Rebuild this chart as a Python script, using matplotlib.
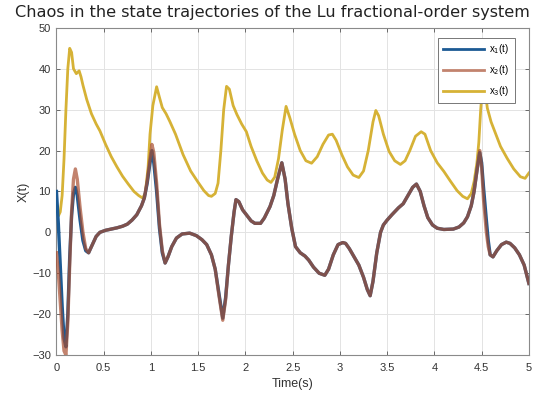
import matplotlib
matplotlib.use("Agg")
import matplotlib.pyplot as plt

plt.rcParams['font.family'] = ['Liberation Sans', 'DejaVu Sans']

# state x1 and x2 share sampling instants
t12 = [0.00, 0.02, 0.04, 0.06, 0.08, 0.10, 0.12, 0.14, 0.16, 0.18, 0.20, 0.22, 0.25,
       0.28, 0.31, 0.34, 0.38, 0.42, 0.46, 0.52, 0.58, 0.64, 0.70, 0.75, 0.80, 0.85,
       0.90, 0.93, 0.96, 0.99, 1.01, 1.03, 1.06, 1.09, 1.12, 1.15, 1.18, 1.22, 1.27,
       1.33, 1.41, 1.48, 1.54, 1.59, 1.64, 1.68, 1.72, 1.76, 1.79, 1.82, 1.85, 1.88,
       1.90, 1.93, 1.97, 2.01, 2.06, 2.10, 2.16, 2.20, 2.26, 2.30, 2.34, 2.385, 2.42,
       2.45, 2.49, 2.53, 2.58, 2.63, 2.67, 2.72, 2.78, 2.84, 2.88, 2.93, 2.98, 3.03,
       3.06, 3.10, 3.15, 3.20, 3.25, 3.29, 3.32, 3.35, 3.39, 3.43, 3.46, 3.50, 3.55,
       3.62, 3.67, 3.72, 3.77, 3.81, 3.85, 3.89, 3.93, 3.98, 4.03, 4.10, 4.20, 4.26,
       4.31, 4.35, 4.39, 4.42, 4.45, 4.48, 4.50, 4.52, 4.55, 4.57, 4.59, 4.62, 4.66,
       4.71, 4.76, 4.80, 4.85, 4.90, 4.95, 5.00]

x1 = [10.0, 2.0, -8.0, -18.0, -26.0, -28.0, -20.0, -6.0, 4.0, 9.5, 11.0, 9.0, 3.0,
      -2.0, -4.5, -5.0, -3.0, -1.0, 0.0, 0.5, 0.8, 1.1, 1.5, 2.0, 3.0, 4.3,
      6.5, 8.4, 12.0, 17.0, 20.0, 17.0, 10.0, 1.0, -5.0, -7.5, -6.0, -3.5, -1.4,
      -0.4, -0.2, -0.8, -1.8, -3.0, -5.5, -9.0, -15.0, -21.0, -16.0, -8.0, -1.0, 5.0,
      8.0, 7.5, 5.5, 4.3, 2.8, 2.2, 2.2, 3.5, 6.3, 9.0, 13.0, 17.0, 13.0,
      7.0, 1.0, -3.5, -5.0, -5.8, -6.8, -8.5, -10.0, -10.5, -9.0, -5.5, -3.0, -2.5,
      -2.7, -4.0, -6.0, -8.0, -11.0, -14.0, -15.5, -12.0, -5.0, 0.0, 1.8, 3.0, 4.3,
      6.0, 7.0, 9.0, 11.0, 11.8, 10.0, 6.5, 3.6, 1.8, 1.0, 0.7, 0.8, 1.3,
      2.3, 3.8, 6.5, 10.0, 15.0, 19.5, 17.0, 11.0, 3.0, -2.0, -5.5, -6.0, -4.5,
      -3.0, -2.4, -2.7, -3.8, -5.5, -8.0, -12.5]

x2 = [-5.0, -10.0, -17.0, -24.0, -29.0, -30.0, -22.0, -8.0, 5.0, 13.0, 15.5, 13.0, 6.0,
      0.0, -4.0, -5.0, -3.0, -1.0, 0.0, 0.5, 0.8, 1.1, 1.5, 2.0, 3.0, 4.3,
      6.5, 8.4, 12.5, 18.0, 21.5, 19.5, 12.0, 2.0, -4.5, -7.5, -6.0, -3.5, -1.4,
      -0.4, -0.2, -0.8, -1.8, -3.0, -5.5, -9.0, -15.5, -21.5, -16.5, -8.0, -1.0, 5.0,
      8.0, 7.5, 5.5, 4.3, 2.8, 2.2, 2.2, 3.5, 6.3, 9.0, 13.0, 17.0, 13.0,
      7.0, 1.0, -3.5, -5.0, -5.8, -6.8, -8.5, -10.0, -10.5, -9.0, -5.5, -3.0, -2.5,
      -2.7, -4.0, -6.0, -8.0, -11.0, -14.0, -15.5, -12.0, -5.0, 0.0, 1.8, 3.0, 4.3,
      6.0, 7.0, 9.0, 11.0, 11.8, 10.0, 6.5, 3.6, 1.8, 1.0, 0.7, 0.8, 1.3,
      2.3, 3.8, 6.5, 10.0, 15.0, 20.0, 16.0, 8.0, 0.0, -3.5, -5.5, -6.0, -4.5,
      -3.0, -2.4, -2.7, -3.8, -5.5, -8.0, -12.5]

# state x3
t3 = [0.00, 0.02, 0.04, 0.06, 0.08, 0.10, 0.12, 0.14, 0.16, 0.18, 0.21, 0.24, 0.26,
      0.28, 0.32, 0.37, 0.42, 0.46, 0.52, 0.58, 0.64, 0.70, 0.76, 0.82, 0.87, 0.91,
      0.94, 0.97, 0.99, 1.02, 1.06, 1.09, 1.12, 1.16, 1.20, 1.26, 1.34, 1.42, 1.50,
      1.56, 1.61, 1.64, 1.68, 1.71, 1.74, 1.77, 1.80, 1.83, 1.87, 1.91, 1.96, 2.01,
      2.06, 2.12, 2.18, 2.23, 2.27, 2.31, 2.35, 2.39, 2.43, 2.47, 2.52, 2.58, 2.64,
      2.70, 2.76, 2.82, 2.88, 2.92, 2.96, 3.02, 3.08, 3.14, 3.20, 3.25, 3.30, 3.35,
      3.38, 3.41, 3.46, 3.52, 3.58, 3.64, 3.69, 3.74, 3.80, 3.86, 3.90, 3.96, 4.03,
      4.10, 4.17, 4.24, 4.30, 4.35, 4.39, 4.42, 4.45, 4.47, 4.49, 4.51, 4.53, 4.56,
      4.60, 4.64, 4.70, 4.77, 4.84, 4.91, 4.96, 5.00]

x3 = [5.0, 4.0, 5.0, 9.0, 18.0, 30.0, 40.0, 45.0, 44.0, 40.0, 38.8, 39.5, 38.0,
      36.0, 32.5, 29.0, 26.5, 24.8, 21.5, 18.5, 16.0, 13.7, 11.8, 10.0, 9.0, 8.4,
      9.5, 16.0, 24.0, 31.0, 35.6, 33.0, 30.5, 29.0, 27.1, 24.0, 19.0, 15.0, 12.2,
      10.2, 9.0, 8.8, 9.5, 12.0, 20.0, 30.0, 35.7, 35.0, 31.0, 28.8, 26.5, 24.6,
      21.0, 17.5, 14.5, 12.8, 12.2, 13.5, 18.0, 25.0, 30.8, 28.0, 24.0, 20.0, 17.5,
      16.9, 18.5, 21.5, 23.8, 24.0, 22.5, 19.0, 16.0, 14.0, 13.4, 15.0, 20.0, 27.0,
      29.8, 28.5, 24.0, 19.8, 17.5, 16.6, 17.5, 20.0, 23.5, 24.6, 24.0, 20.0, 17.0,
      14.9, 12.5, 10.2, 8.8, 8.2, 9.5, 12.4, 17.0, 22.0, 30.0, 36.0, 36.0, 30.4,
      27.0, 24.6, 21.0, 18.1, 15.5, 13.6, 13.2, 14.5]

x_ticks = [0, 0.5, 1, 1.5, 2, 2.5, 3, 3.5, 4, 4.5, 5]
x_ticklabels = ['0', '0.5', '1', '1.5', '2', '2.5', '3', '3.5', '4', '4.5', '5']
y_ticks = [-30, -20, -10, 0, 10, 20, 30, 40, 50]

c1 = '#1c5a94'
c2 = '#a84e30'
c3 = '#d6b236'

fig = plt.figure(figsize=(5.43, 3.98), dpi=100)
ax = fig.add_axes([0.104, 0.108, 0.870, 0.822])

ax.plot(t12, x1, color=c1, lw=2.4, label=r'x$_1$(t)', zorder=3)
ax.plot(t12, x2, color=c2, lw=2.4, alpha=0.7, label=r'x$_2$(t)', zorder=4)
ax.plot(t3, x3, color=c3, lw=2.0, label=r'x$_3$(t)', zorder=2)

ax.set_xlim(0, 5)
ax.set_ylim(-30, 50)
ax.set_xticks(x_ticks)
ax.set_xticklabels(x_ticklabels)
ax.set_yticks(y_ticks)

ax.grid(True, color='#e3e3e3', lw=0.7)
ax.set_axisbelow(True)
ax.tick_params(direction='in', top=True, right=True, length=3, width=0.6,
               labelsize=8, colors='#555555', labelcolor='#333333')
ax.tick_params(axis='x', pad=6)
ax.tick_params(axis='y', pad=4)
for s in ax.spines.values():
    s.set_color('#8a8a8a')
    s.set_linewidth(0.8)

ax.set_xlabel('Time(s)', fontsize=9, color='#333333', labelpad=3)
ax.set_ylabel('X(t)', fontsize=9, color='#333333', labelpad=2)
fig.text(0.502, 0.968,
         'Chaos in the state trajectories of the Lu fractional-order system',
         fontsize=11.6, family='DejaVu Sans', color='#222222',
         ha='center', va='center')

leg = ax.legend(loc='upper right', bbox_to_anchor=(0.98, 0.985), fontsize=7,
                frameon=True, fancybox=False, framealpha=1.0,
                handlelength=4.2, handletextpad=0.6,
                borderpad=0.5, labelspacing=0.7)
leg.get_frame().set_edgecolor('#777777')
leg.get_frame().set_linewidth(0.7)
for h in leg.get_lines():
    h.set_linewidth(2.0)

fig.savefig('out.png', dpi=100)
